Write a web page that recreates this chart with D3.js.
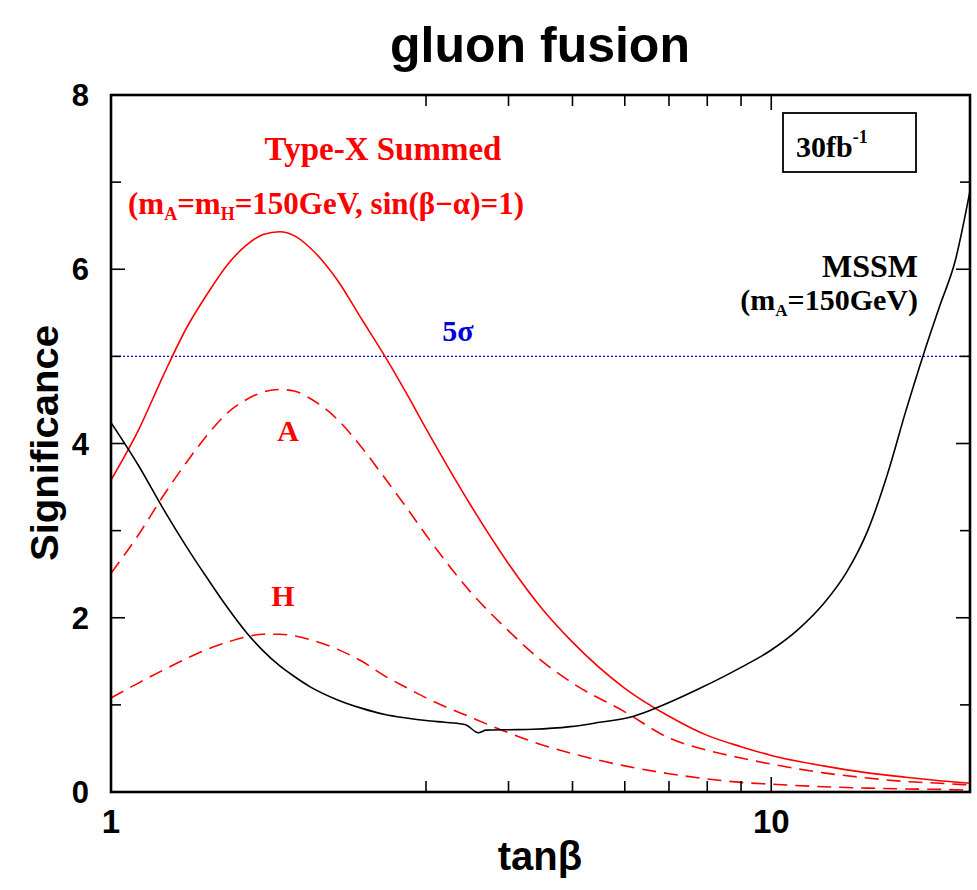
<!DOCTYPE html>
<html>
<head>
<meta charset="utf-8">
<script src="https://cdn.jsdelivr.net/npm/d3@7"></script>
<style>
  html, body { margin: 0; padding: 0; background: #fff; }
  svg { display: block; }
</style>
</head>
<body>
<svg id="chart" width="977" height="890"></svg>
<script>
// tanβ sample points shared by the Type-X curves
const tanBeta = [1, 1.1, 1.2, 1.3, 1.4, 1.5, 1.6, 1.7, 1.8, 1.9, 2.0, 2.2, 2.4, 2.6, 2.8, 3.0, 3.5, 4, 4.5, 5, 6, 7, 8, 9, 10, 12, 14, 16, 18, 20];

// Type-X, summed A + H significance
const summed = [3.58, 4.15, 4.78, 5.32, 5.72, 6.05, 6.27, 6.40, 6.43, 6.38, 6.25, 5.88, 5.42, 5.00, 4.58, 4.17, 3.30, 2.62, 2.10, 1.72, 1.19, 0.87, 0.65, 0.52, 0.42, 0.30, 0.22, 0.17, 0.13, 0.10];
// Type-X, A only
const sigA = [2.51, 2.95, 3.40, 3.78, 4.10, 4.35, 4.50, 4.59, 4.62, 4.60, 4.52, 4.28, 3.95, 3.60, 3.27, 2.95, 2.30, 1.85, 1.50, 1.25, 0.92, 0.62, 0.48, 0.39, 0.32, 0.22, 0.16, 0.12, 0.10, 0.08];
// Type-X, H only
const sigH = [1.08, 1.25, 1.40, 1.53, 1.64, 1.72, 1.78, 1.81, 1.81, 1.79, 1.75, 1.64, 1.50, 1.33, 1.20, 1.08, 0.86, 0.68, 0.54, 0.44, 0.30, 0.21, 0.15, 0.11, 0.09, 0.06, 0.045, 0.035, 0.03, 0.02];

// MSSM (mA = 150 GeV), with its own sampling
const mssmTanBeta = [1, 1.1, 1.2, 1.3, 1.4, 1.5, 1.6, 1.7, 1.8, 1.9, 2.0, 2.2, 2.4, 2.6, 2.8, 3.0, 3.2, 3.4, 3.45, 3.6, 3.7, 4.0, 4.36, 4.96, 5.5, 6.13, 6.62, 7.8, 9, 10, 11, 12, 13, 14, 15, 16, 17, 18, 19, 20];
const mssm = [4.24, 3.75, 3.25, 2.82, 2.45, 2.12, 1.84, 1.62, 1.45, 1.32, 1.21, 1.06, 0.96, 0.89, 0.85, 0.82, 0.80, 0.78, 0.77, 0.68, 0.71, 0.715, 0.72, 0.75, 0.80, 0.86, 0.95, 1.19, 1.43, 1.63, 1.87, 2.16, 2.52, 3.00, 3.65, 4.38, 5.02, 5.58, 6.10, 6.90];

const discovery = 5;          // 5σ line
const yTickValues = [0, 1, 2, 3, 4, 5, 6, 7, 8];
const yTickLabels = [0, 2, 4, 6, 8];
const xMinorTicks = [3, 4, 5, 6, 7, 8, 9];
const xMajorTicks = [1, 10];

const svg = d3.select("#chart");
const margin = { left: 111, right: 977 - 970, top: 95, bottom: 890 - 792 };
const W = 977, H = 890;
const x = d3.scaleLog().domain([1, 20]).range([margin.left, W - margin.right]);
const y = d3.scaleLinear().domain([0, 8]).range([H - margin.bottom, margin.top]);

const sans = "'Liberation Sans', Arial, Helvetica, sans-serif";
const serif = "'Liberation Serif', 'Times New Roman', serif";

svg.append("defs").append("clipPath").attr("id", "plotClip")
  .append("rect")
  .attr("x", x(1)).attr("y", y(8))
  .attr("width", x(20) - x(1)).attr("height", y(0) - y(8));

const plot = svg.append("g").attr("clip-path", "url(#plotClip)");

// 5σ reference line
plot.append("line")
  .attr("x1", x(1)).attr("x2", x(20))
  .attr("y1", y(discovery)).attr("y2", y(discovery))
  .attr("stroke", "#0000dd").attr("stroke-width", 1.3)
  .attr("stroke-dasharray", "2,2");

const line = d3.line().curve(d3.curveMonotoneX);
function draw(xs, ys, color, dash) {
  plot.append("path")
    .attr("d", line(xs.map((t, i) => [x(t), y(ys[i])])))
    .attr("fill", "none")
    .attr("stroke", color)
    .attr("stroke-width", 1.6)
    .attr("stroke-dasharray", dash || null);
}
draw(tanBeta, sigH, "#ff0000", "14,8");
draw(tanBeta, sigA, "#ff0000", "14,8");
draw(tanBeta, summed, "#ff0000");
draw(mssmTanBeta, mssm, "#000000");

// Frame and ticks
const axes = svg.append("g").attr("stroke", "#000");
axes.append("rect")
  .attr("x", x(1)).attr("y", y(8))
  .attr("width", x(20) - x(1)).attr("height", y(0) - y(8))
  .attr("fill", "none").attr("stroke-width", 2.6);

yTickValues.forEach(v => {
  const len = v % 2 === 0 ? 14 : 10;
  axes.append("line").attr("x1", x(1)).attr("x2", x(1) + len)
    .attr("y1", y(v)).attr("y2", y(v)).attr("stroke-width", 1.6);
  axes.append("line").attr("x1", x(20)).attr("x2", x(20) - len)
    .attr("y1", y(v)).attr("y2", y(v)).attr("stroke-width", 1.6);
});
xMinorTicks.concat([10]).forEach(v => {
  const len = v === 10 ? 15 : 11;
  axes.append("line").attr("x1", x(v)).attr("x2", x(v))
    .attr("y1", y(0)).attr("y2", y(0) - len).attr("stroke-width", 1.6);
  axes.append("line").attr("x1", x(v)).attr("x2", x(v))
    .attr("y1", y(8)).attr("y2", y(8) + len).attr("stroke-width", 1.6);
});

// Tick labels
const labels = svg.append("g").attr("font-family", sans).attr("font-weight", "bold").attr("fill", "#000");
yTickLabels.forEach(v => {
  labels.append("text").attr("x", 89).attr("y", y(v) + 11)
    .attr("text-anchor", "end").attr("font-size", 31).text(v);
});
xMajorTicks.forEach(v => {
  labels.append("text").attr("x", x(v)).attr("y", 833)
    .attr("text-anchor", "middle").attr("font-size", 33).text(v);
});

// Titles
labels.append("text").attr("x", 540).attr("y", 62)
  .attr("text-anchor", "middle").attr("font-size", 50).text("gluon fusion");
labels.append("text").attr("x", 540).attr("y", 870)
  .attr("text-anchor", "middle").attr("font-size", 40).text("tanβ");
labels.append("text")
  .attr("transform", "translate(58,443) rotate(-90)")
  .attr("text-anchor", "middle").attr("font-size", 38)
  .attr("textLength", 236).attr("lengthAdjust", "spacingAndGlyphs")
  .text("Significance");

// Luminosity box (drawn before the annotation text so the label sits on top)
svg.append("rect").attr("x", 783).attr("y", 113).attr("width", 133).attr("height", 59)
  .attr("fill", "#fff").attr("stroke", "#000").attr("stroke-width", 1.8);

// Annotations
const ann = svg.append("g").attr("font-family", serif).attr("font-weight", "bold");

ann.append("text").attr("x", 383).attr("y", 160).attr("text-anchor", "middle")
  .attr("font-size", 33).attr("fill", "#ff0000").text("Type-X Summed");

const params = ann.append("text").attr("x", 128).attr("y", 214)
  .attr("font-size", 31).attr("fill", "#ff0000");
params.append("tspan").text("(m");
params.append("tspan").attr("font-size", 18).attr("dy", 6).text("A");
params.append("tspan").attr("dy", -6).text("=m");
params.append("tspan").attr("font-size", 18).attr("dy", 6).text("H");
params.append("tspan").attr("dy", -6).text("=150GeV, sin(β−α)=1)");

ann.append("text").attr("x", 288).attr("y", 441).attr("text-anchor", "middle")
  .attr("font-size", 30).attr("fill", "#ff0000").text("A");
ann.append("text").attr("x", 283).attr("y", 606).attr("text-anchor", "middle")
  .attr("font-size", 30).attr("fill", "#ff0000").text("H");

ann.append("text").attr("x", 458).attr("y", 341).attr("text-anchor", "middle")
  .attr("font-size", 30).attr("fill", "#0000dd").text("5σ");

ann.append("text").attr("x", 918).attr("y", 277).attr("text-anchor", "end")
  .attr("font-size", 32).attr("fill", "#000").text("MSSM");
const mssmNote = ann.append("text").attr("x", 918).attr("y", 310).attr("text-anchor", "end")
  .attr("font-size", 30).attr("fill", "#000");
mssmNote.append("tspan").text("(m");
mssmNote.append("tspan").attr("font-size", 17).attr("dy", 6).text("A");
mssmNote.append("tspan").attr("dy", -6).text("=150GeV)");

const lumi = ann.append("text").attr("x", 796).attr("y", 157)
  .attr("font-size", 30).attr("fill", "#000");
lumi.append("tspan").text("30fb");
lumi.append("tspan").attr("font-size", 18).attr("dy", -14).text("-1");
</script>
</body>
</html>
